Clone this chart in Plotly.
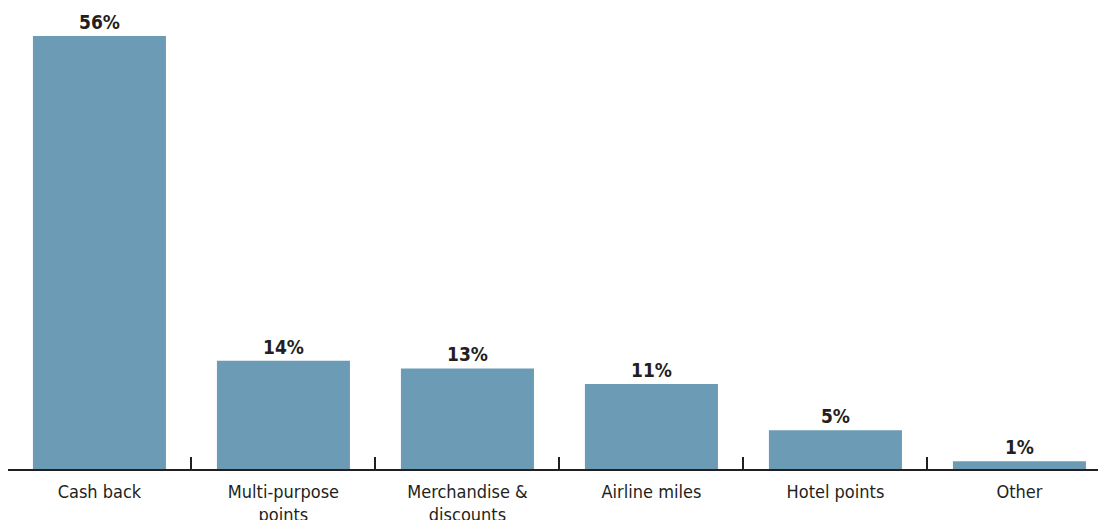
import plotly.graph_objects as go

categories = ["Cash back", "Multi-purpose<br>points", "Merchandise &<br>discounts",
              "Airline miles", "Hotel points", "Other"]
shares = [56, 14, 13, 11, 5, 1]
value_labels = ["56%", "14%", "13%", "11%", "5%", "1%"]

BAR_COLOR = "#6b9bb5"
INK = "#231f20"
FONT = "DejaVu Sans Condensed, Liberation Sans Narrow, Arial Narrow, Liberation Sans, sans-serif"

fig = go.Figure(
    go.Bar(
        x=categories,
        y=shares,
        text=value_labels,
        textposition="outside",
        textfont=dict(family=FONT, size=19, color=INK, weight="bold"),
        marker=dict(color=BAR_COLOR, line=dict(width=0)),
        width=0.723,
        cliponaxis=False,
        hoverinfo="skip",
    )
)

fig.update_layout(
    width=1098,
    height=520,
    margin=dict(l=8, r=0, t=0, b=51, autoexpand=False),
    paper_bgcolor="white",
    plot_bgcolor="white",
    showlegend=False,
    font=dict(family=FONT, color=INK),
    xaxis=dict(
        type="category",
        range=[-0.497, 5.427],
        automargin=False,
        tickson="boundaries",
        ticks="inside",
        ticklen=12,
        tickwidth=2,
        tickcolor=INK,
        showline=True,
        linewidth=2,
        linecolor=INK,
        showgrid=False,
        ticklabelstandoff=5,
        tickfont=dict(family=FONT, size=18, color=INK),
        fixedrange=True,
    ),
    yaxis=dict(
        range=[0, 60.66],
        visible=False,
        showgrid=False,
        zeroline=False,
        fixedrange=True,
        automargin=False,
    ),
)

fig.write_html("out.html")
